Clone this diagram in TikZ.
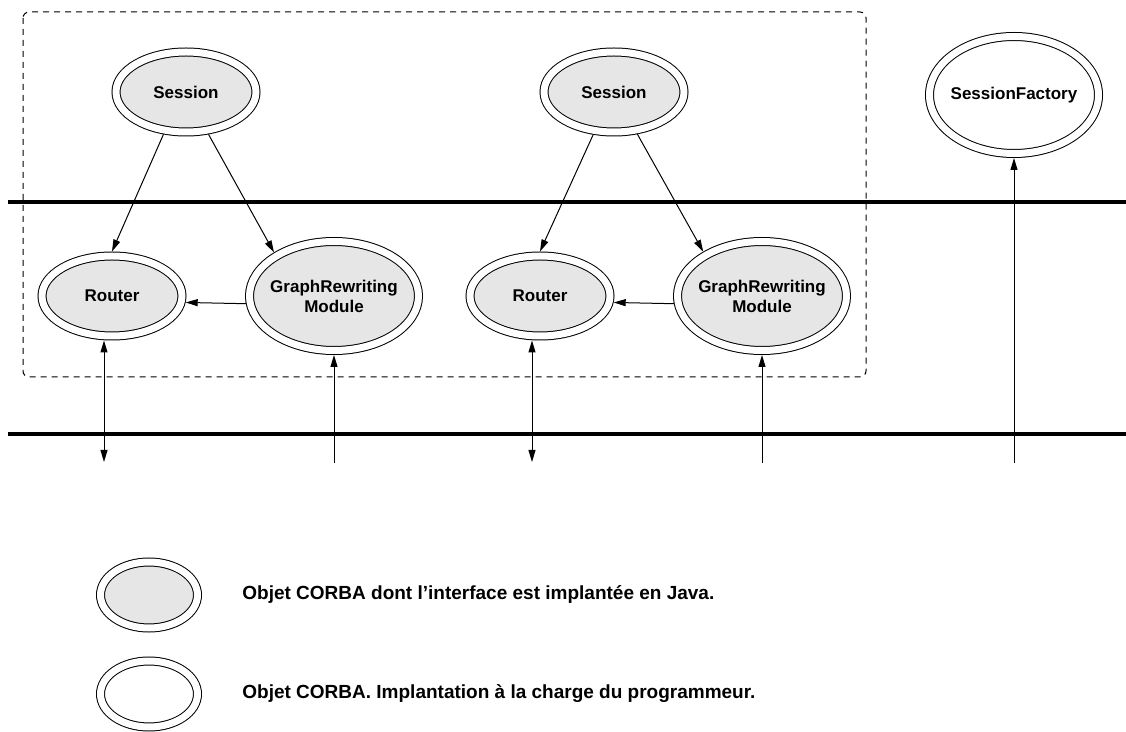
\documentclass[tikz,border=0pt]{standalone}
\usepackage{fontspec}
\setmainfont{Liberation Sans}
\usepackage{tikz}
\usetikzlibrary{arrows.meta,%
	shapes.geometric,%
	positioning}
\definecolor{objgray}{RGB}{230,230,230}

\begin{document}
\begin{tikzpicture}[x = 0.5pt, y = -0.5pt, font=\bfseries\fontsize{8.5}{10}\selectfont, >={Triangle[length=6pt,width=3.5pt]}, obj/.style = {ellipse, draw, line width=0.5pt, double, double distance=3.5pt, outer sep=2.25pt, inner xsep=-8pt, inner ysep=0pt, align=center, minimum width=70pt, minimum height=40pt}, javaobj/.style = {obj, fill=objgray}, big/.style = {minimum width=84.5pt, minimum height=54.5pt}, link/.style = {line width=0.5pt}, bus/.style = {line width=2.3pt}, legtext/.style = {inner sep=0pt, font=\bfseries\fontsize{9.5}{11}\selectfont}]
	\useasboundingbox (0,0) rectangle (1126,732);
	% java side
	\draw[dash pattern=on 3pt off 2.5pt, line width=0.5pt, rounded corners=3pt] (23,12) rectangle (866,377);
	\draw[bus] (8,202) -- (1126,202);
	\draw[bus] (8,434) -- (1126,434);
	\node[javaobj] (s1) at (186,92) {Session};
	\node[javaobj] (r1) at (112,296) {Router};
	\node[javaobj, big] (g1) at (334,296) {GraphRewriting\\Module};
	\node[javaobj] (s2) at (614,92) {Session};
	\node[javaobj] (r2) at (540,296) {Router};
	\node[javaobj, big] (g2) at (762,296) {GraphRewriting\\Module};
	\node[obj, big, minimum height=58.5pt] (sf) at (1014,95) {SessionFactory};
	\draw[link, ->] (s1.242) -- (r1.north);
	\draw[link, ->] (s1.298) -- (g1.144);
	\draw[link, ->] (g1.185) -- (r1.355);
	\draw[link, ->] (s2.244) -- (r2.north);
	\draw[link, ->] (s2.299) -- (g2.143);
	\draw[link, ->] (g2.185) -- (r2.355);
	% ends below the second line
	\coordinate (p1) at (104,462);
	\coordinate (p2) at (334,463);
	\coordinate (p3) at (532,462);
	\coordinate (p4) at (762,463);
	\coordinate (p5) at (1014,463);
	\draw[link, <->] (p1) -- (p1 |- r1.south);
	\draw[link, ->] (p2) -- (g1.south);
	\draw[link, <->] (p3) -- (p3 |- r2.south);
	\draw[link, ->] (p4) -- (g2.south);
	\draw[link, ->] (p5) -- (sf.south);
	% legend
	\node[javaobj, minimum width=48.5pt, minimum height=33pt] (k1) at (149,595) {};
	\node[obj, minimum width=48.5pt, minimum height=33pt] (k2) at (149,694) {};
	\node[legtext, right=20pt of k1] (t1) {Objet CORBA dont l'interface est implantée en Java.};
	\node[legtext, right=20pt of k2] (t2) {Objet CORBA. Implantation à la charge du programmeur.};
\end{tikzpicture}
\end{document}
